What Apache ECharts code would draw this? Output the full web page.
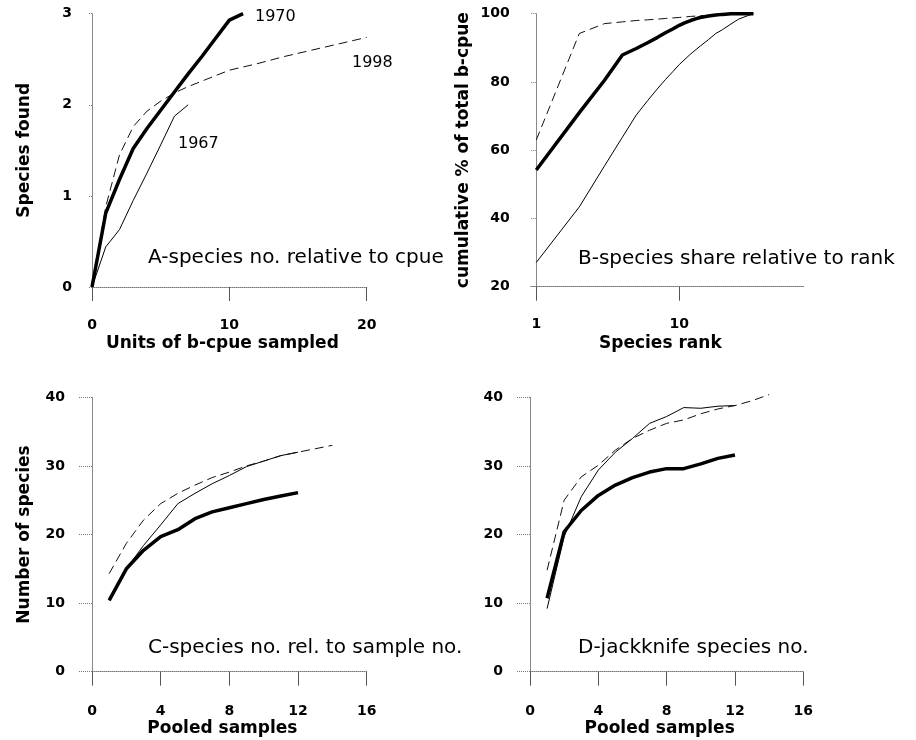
<!DOCTYPE html>
<html style="height: 100%">
<head>
<meta charset="utf-8">
<script src="https://cdn.jsdelivr.net/npm/echarts@6/dist/echarts.min.js"></script>
<style>
  body { margin: 0; background: #fff; }
  #chart { width: 916px; height: 740px; }
</style>
</head>
<body>
<div id="chart"></div>
<script>
// Panel A - species found vs units of b-cpue sampled
var aX1967 = [0, 1, 2, 3, 4, 5, 6, 7];
var aY1967 = [0, 0.44, 0.63, 0.95, 1.25, 1.56, 1.875, 2.0];
var aX1970 = [0, 1, 2, 3, 4, 5, 6, 7, 8, 9, 10, 11];
var aY1970 = [0, 0.81, 1.18, 1.52, 1.74, 1.94, 2.14, 2.34, 2.53, 2.73, 2.93, 3.0];
var aX1998 = [0, 1, 2, 3, 4, 5, 6, 7, 8, 9, 10, 12, 14, 16, 18, 20];
var aY1998 = [0, 0.88, 1.45, 1.76, 1.93, 2.04, 2.13, 2.2, 2.26, 2.32, 2.38, 2.45, 2.53, 2.6, 2.67, 2.74];

// Panel B - cumulative share vs species rank (log axis)
var bR1967 = [1, 2, 3, 4, 5, 6, 7, 8, 9, 10, 12, 14, 16, 18, 20, 23, 26, 30, 33];
var bY1967 = [27.1, 43.4, 55.4, 63.8, 70.3, 74.5, 77.9, 80.7, 83, 85.1, 88.2, 90.5, 92.4, 94.2, 95.3, 97, 98.4, 99.4, 100];
var bR1970 = [1, 2, 3, 4, 5, 6, 7, 8, 9, 10, 11, 12, 13, 14, 16, 18, 20, 23, 26, 30, 33];
var bY1970 = [54.2, 71, 80.5, 87.9, 89.8, 91.5, 93, 94.4, 95.5, 96.6, 97.4, 98, 98.5, 98.9, 99.3, 99.6, 99.8, 100, 100, 100, 100];
var bR1998 = [1, 2, 3, 4, 5, 6, 7, 8, 10, 12, 14, 18, 23, 26, 33];
var bY1998 = [63, 94.2, 97.1, 97.6, 98, 98.2, 98.4, 98.6, 98.9, 99.2, 99.4, 99.6, 99.8, 100, 100];

// Panel C - species no. relative to pooled samples
var cX = [1, 2, 3, 4, 5, 6, 7, 8, 9, 10, 11, 12];
var cX1998 = [1, 2, 3, 4, 5, 6, 7, 8, 9, 10, 11, 12, 13, 14];
var cY1967 = [10.4, 15.0, 18.4, 21.4, 24.5, 26.0, 27.4, 28.6, 29.9, 30.7, 31.5, 32.0];
var cY1970 = [10.4, 15.0, 17.7, 19.7, 20.7, 22.3, 23.3, 23.9, 24.5, 25.1, 25.6, 26.1];
var cY1998 = [14.3, 18.7, 22.1, 24.5, 26.0, 27.2, 28.3, 29.1, 30.0, 30.7, 31.5, 32.0, 32.5, 33.0];

// Panel D - jackknife species no.
var dX = [1, 2, 3, 4, 5, 6, 7, 8, 9, 10, 11, 12];
var dX1998 = [1, 2, 3, 4, 5, 6, 7, 8, 9, 10, 11, 12, 13, 14];
var dY1967 = [9.2, 19.7, 25.5, 29.4, 32.0, 34.0, 36.2, 37.2, 38.5, 38.4, 38.7, 38.8];
var dY1970 = [10.7, 20.4, 23.5, 25.7, 27.2, 28.3, 29.1, 29.6, 29.6, 30.3, 31.1, 31.6];
var dY1998 = [14.8, 25.0, 28.4, 30.1, 32.3, 34.0, 35.2, 36.2, 36.7, 37.6, 38.3, 38.8, 39.5, 40.4];

var FONT = '"DejaVu Sans", Verdana, sans-serif';

function pairs(xs, ys, fn) {
    var out = [];
    for (var i = 0; i < xs.length; i++) {
        out.push([fn ? fn(xs[i]) : xs[i], ys[i]]);
    }
    return out;
}

function line(idx, data, kind) {
    var ls = { color: '#000', width: 1 };
    if (kind == 'thick') ls.width = 3.5;
    if (kind == 'dash') { ls.width = 1; ls.type = [9, 5]; ls.color = '#111'; }
    return {
        type: 'line', xAxisIndex: idx, yAxisIndex: idx, data: data,
        symbol: 'none', clip: false, lineStyle: ls, silent: true
    };
}

function xAxis(idx, min, max, interval, name, margin) {
    return {
        type: 'value', gridIndex: idx, min: min, max: max, interval: interval,
        name: name, nameLocation: 'middle', nameGap: 48,
        nameTextStyle: { fontFamily: FONT, fontWeight: 'bold', fontSize: 17, color: '#000', padding: [0, 14, 0, 0] },
        axisLine: { lineStyle: { color: '#777', type: [1, 1], width: 1 } },
        axisTick: { show: true, length: 14, lineStyle: { color: '#555' } },
        axisLabel: { margin: margin, fontFamily: FONT, fontWeight: 'bold', fontSize: 14, color: '#000' },
        splitLine: { show: false }
    };
}

function yAxis(idx, min, max, interval, name, tickLen, margin) {
    return {
        type: 'value', gridIndex: idx, min: min, max: max, interval: interval,
        name: name, nameLocation: 'middle', nameGap: 59,
        nameTextStyle: { fontFamily: FONT, fontWeight: 'bold', fontSize: 17, color: '#000' },
        axisLine: { show: true, lineStyle: { color: '#888', width: 1 } },
        axisTick: { show: true, length: tickLen, lineStyle: { color: '#777', type: [1, 1] } },
        axisLabel: { margin: margin, fontFamily: FONT, fontWeight: 'bold', fontSize: 14, color: '#000' },
        splitLine: { show: false }
    };
}

var log10 = function (v) { return Math.log10(v); };

var xB = xAxis(1, -0.039, 1.872, null, 'Species rank', 31);
delete xB.interval;
xB.axisLabel.customValues = [0, 1];
xB.axisTick.customValues = [0, 1];
xB.axisLabel.formatter = function (v) { return String(Math.round(Math.pow(10, v))); };

function panelText(x, y, text, size) {
    return {
        type: 'text', x: x, y: y,
        style: { text: text, font: size + 'px ' + FONT, fill: '#000', verticalAlign: 'middle' }
    };
}

var option = {
    animation: false,
    backgroundColor: '#fff',
    grid: [
        { left: 92, top: 13.7, width: 274.7, height: 273.3 },
        { left: 530.7, top: 13.7, width: 273.3, height: 273 },
        { left: 92, top: 397.3, width: 274.7, height: 274.4 },
        { left: 530, top: 397.3, width: 273.3, height: 274.4 }
    ],
    xAxis: [
        xAxis(0, 0, 20, 10, 'Units of b-cpue sampled', 31),
        xB,
        xAxis(2, 0, 16, 4, 'Pooled samples', 33),
        xAxis(3, 0, 16, 4, 'Pooled samples', 33)
    ],
    yAxis: [
        yAxis(0, 0, 3, 1, 'Species found', 4, 20),
        yAxis(1, 20, 100, 20, 'cumulative % of total b-cpue', 5, 21),
        yAxis(2, 0, 40, 10, 'Number of species', 13, 27),
        yAxis(3, 0, 40, 10, '', 13, 27)
    ],
    graphic: [
        panelText(255, 17, '1970', 16),
        panelText(352, 63, '1998', 16),
        panelText(178, 144, '1967', 16),
        panelText(148, 258, 'A-species no. relative to cpue', 20),
        panelText(578, 259, 'B-species share relative to rank', 20),
        panelText(148, 648, 'C-species no. rel. to sample no.', 20),
        panelText(578, 648, 'D-jackknife species no.', 20)
    ],
    series: [
        line(0, pairs(aX1967, aY1967), 'thin'),
        line(0, pairs(aX1998, aY1998), 'dash'),
        line(0, pairs(aX1970, aY1970), 'thick'),
        line(1, pairs(bR1967, bY1967, log10), 'thin'),
        line(1, pairs(bR1998, bY1998, log10), 'dash'),
        line(1, pairs(bR1970, bY1970, log10), 'thick'),
        line(2, pairs(cX, cY1967), 'thin'),
        line(2, pairs(cX1998, cY1998), 'dash'),
        line(2, pairs(cX, cY1970), 'thick'),
        line(3, pairs(dX, dY1967), 'thin'),
        line(3, pairs(dX1998, dY1998), 'dash'),
        line(3, pairs(dX, dY1970), 'thick')
    ]
};

var myChart = echarts.init(document.getElementById('chart'));
myChart.setOption(option);
</script>
</body>
</html>
